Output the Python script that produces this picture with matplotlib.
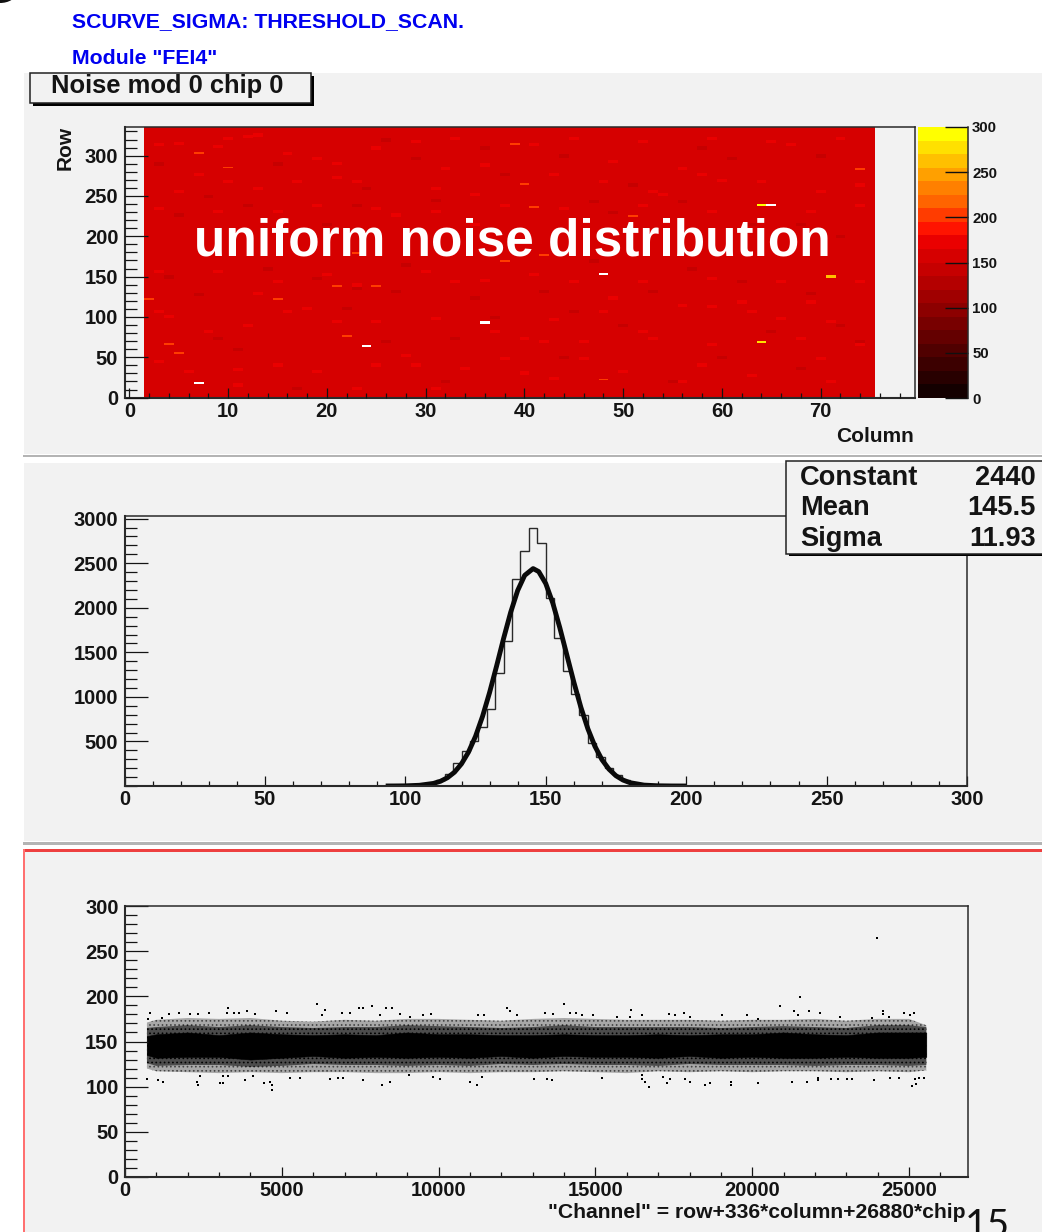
import numpy as np
import matplotlib
matplotlib.use('Agg')
import matplotlib.pyplot as plt
from matplotlib.colors import ListedColormap, BoundaryNorm
from matplotlib.patches import Rectangle, Ellipse
from matplotlib.ticker import MultipleLocator

plt.rcParams['font.family'] = ['Liberation Sans', 'DejaVu Sans']
plt.rcParams['font.weight'] = 'bold'
plt.rcParams['hatch.linewidth'] = 0.7

W, H = 1042, 1232
PANEL = '#f2f2f2'
INK = '#141414'

# top map: typical level, and the cells that stand out in the picture
map_level = 152
map_first_col, map_last_col = 2, 75
bright_cols = [9, 10, 13, 9, 21, 21, 19, 25, 8, 4, 11, 27, 29, 36, 35, 23, 28, 18, 7, 12, 32, 16, 38,
               43, 42, 40, 71, 49, 56, 54, 60, 67, 59, 52, 63, 74, 48, 66, 58, 70, 46,
               3, 5, 10, 13, 19, 25, 29, 33, 36, 5, 13, 17, 23, 31, 35, 3, 15, 25, 31, 3, 9, 15, 20, 30, 33,
               3, 12, 16, 21, 31, 37, 3, 6, 15, 19, 25, 34, 38, 11, 23, 31,
               41, 45, 52, 59, 65, 72, 43, 48, 53, 58, 64, 70, 44, 52, 59, 69, 74, 41, 45, 52, 59, 66, 74,
               49, 56, 62, 69, 40, 46, 53, 59, 68, 74, 43, 50, 56, 63, 71]
bright_rows = [312, 268, 130, 231, 291, 273, 239, 95, 82, 101, 35, 227, 41, 146, 215, 140, 53, 111, 277, 324, 285, 303, 239,
               97, 70, 31, 95, 293, 285, 252, 270, 314, 113, 82, 107, 264, 107, 99, 41, 49, 49,
               314, 316, 322, 326, 297, 310, 318, 322, 289, 256, 260, 268, 268, 260, 252, 235, 231, 235, 231, 157, 157, 144, 153, 157, 144,
               107, 90, 107, 95, 99, 82, 45, 33, 41, 33, 41, 37, 49, 16, 12, 12,
               314, 322, 318, 322, 318, 322, 277, 268, 256, 277, 268, 256, 235, 239, 231, 231, 239, 153, 144, 144, 148, 144, 144,
               124, 115, 119, 119, 74, 70, 74, 66, 74, 66, 24, 33, 20, 28, 20]
orange_cols = [4, 5, 10, 7, 15, 21, 22, 25, 2, 23, 38, 40, 41, 51, 42, 74, 48, 39]
orange_rows = [66, 55, 285, 303, 122, 138, 76, 138, 122, 179, 169, 264, 236, 225, 176, 283, 22, 314]
dark_cols = [29, 12, 23, 19, 23, 27, 5, 35, 38, 20, 9, 33, 17, 22, 7, 24,
             47, 56, 61, 68, 51, 53, 62, 65, 42, 45, 74, 68,
             3, 15, 26, 36, 8, 31, 4, 14, 28, 37, 11, 26, 32, 44, 58, 70, 49, 63, 72, 47, 57, 69, 50, 60, 44, 72, 55]
dark_rows = [297, 239, 239, 148, 136, 132, 227, 124, 277, 215, 74, 74, 12, 111, 128, 260,
             244, 244, 297, 215, 264, 132, 144, 82, 132, 107, 70, 37,
             290, 290, 320, 310, 250, 245, 150, 160, 165, 100, 60, 70, 20, 300, 310, 300, 230, 215, 200, 170, 160, 130, 90, 50, 50, 90, 20]
hot_cols = [7, 24, 36, 48, 64, 65, 71, 64]
hot_rows = [18, 64, 93, 153, 239, 239, 150, 69]
hot_vals = [320, 320, 320, 320, 290, 320, 260, 280]

palette_edges = list(range(0, 315, 15))
palette = ['#140000', '#280000', '#3c0000', '#500000', '#640000', '#780000', '#8c0000', '#a00000',
           '#b40000', '#c60000', '#d60000', '#ea0000', '#ff1400', '#ff3c00', '#ff6400', '#ff8000',
           '#ffa000', '#ffc000', '#ffe000', '#ffff00']

# middle histogram, 3 wide bins starting at 105
hist_start = 105
hist_values = [12, 30, 70, 137, 256, 391, 510, 661, 868, 1272, 1627, 2328, 2635, 2890, 2732,
               2110, 1665, 1290, 1036, 800, 477, 324, 200, 118, 62, 28, 12, 5]
fit_x = [93, 96, 100, 105, 110, 112.5, 115, 117.5, 120, 122.5, 125, 127.5, 130, 132.5, 135, 137.5, 140, 142.5,
         145.5, 147.5, 150, 152.5, 155, 157.5, 160, 162.5, 165, 167.5, 170, 172.5, 175, 177.5, 180, 185, 190, 195, 200]
fit_y = [0.2, 0.5, 1.7, 8, 29, 53, 93, 155, 249, 381, 558, 782, 1049, 1347, 1657, 1948, 2194, 2364,
         2440, 2406, 2272, 2054, 1777, 1471, 1166, 884, 642, 446, 296, 189, 115, 67, 37, 10, 2.3, 0.3, 0]
fit_stats = [('Constant', '2440'), ('Mean', '145.5'), ('Sigma', '11.93')]

# bottom scatter: band outline read every 1000 channels, plus the stray points
band_x = [700, 1000, 2000, 3000, 4000, 5000, 6000, 7000, 8000, 9000, 10000, 11000, 12000, 13000,
          14000, 15000, 16000, 17000, 18000, 19000, 20000, 21000, 22000, 23000, 24000, 25000, 25550]
outer_top = [171, 174, 176, 175, 176, 173, 172, 174, 173, 175, 175, 174, 173, 175,
             176, 175, 174, 174, 174, 173, 174, 174, 175, 173, 175, 175, 168]
outer_low = [120, 117, 116, 115, 116, 115, 116, 116, 115, 115, 116, 115, 116, 116,
             117, 116, 115, 117, 116, 117, 116, 117, 117, 116, 117, 116, 118]
mid_top = [165, 166, 168, 166, 168, 166, 165, 166, 166, 168, 167, 166, 165, 166,
           168, 166, 166, 166, 166, 165, 166, 167, 166, 165, 168, 168, 166]
mid_low = [126, 123, 124, 124, 122, 123, 125, 124, 124, 123, 124, 123, 125, 124,
           125, 124, 124, 123, 125, 124, 124, 124, 123, 124, 124, 123, 124]
core_top = [156, 158, 160, 157, 160, 158, 157, 158, 157, 160, 158, 158, 157, 157,
            158, 157, 157, 158, 157, 158, 158, 160, 158, 157, 160, 160, 160]
core_low = [135, 132, 133, 133, 130, 132, 134, 132, 133, 132, 133, 132, 134, 132,
            134, 133, 133, 132, 134, 132, 133, 132, 132, 133, 132, 132, 133]
stray_x = [798, 1733, 1414, 2339, 2690, 3275, 3243, 3477, 3625, 3902, 4146, 4816, 5156, 6134, 6368, 6294, 6910,
           7176, 7452, 7580, 7877, 8313, 8505, 8133, 8770, 2073, 1170, 745,
           1064, 1202, 2286, 2318, 3030, 3136, 3827, 4444, 4625, 4678, 4688, 4093, 2392, 3136, 3296, 5262, 5581,
           6538, 6804, 6963, 7580, 8451, 8207, 692,
           12174, 12280, 14013, 16138, 13396, 14193, 14385, 17350, 17552, 9516, 9750, 9091, 11270, 11451, 12514,
           13662, 14565, 14916, 16107, 16479, 15682,
           11004, 11217, 10048, 9835, 13056, 13449, 13609, 15225, 16479, 16479, 16585, 16723, 17297, 17148, 9070, 11376,
           21508, 20871, 21317, 21806, 22168, 24166, 24166, 24846, 25144, 17830, 19042, 19818, 21445, 22805, 18022,
           20180, 23815, 24347, 25016,
           18500, 18660, 19329, 19329, 20169, 21264, 21742, 22093, 22093, 22518, 22720, 25091, 25229, 25197, 25303,
           25463, 18022, 17862, 17384, 23868, 24400, 24666, 23018, 23177, 23980]
stray_y = [182, 182, 180, 180, 182, 187, 182, 182, 182, 184, 180, 184, 182, 192, 185, 179, 182,
           182, 187, 187, 189, 187, 187, 179, 180, 180, 176, 175,
           107, 105, 105, 102, 104, 104, 107, 104, 105, 102, 96, 112, 112, 112, 112, 110, 110,
           109, 110, 110, 107, 105, 102, 109,
           187, 184, 192, 185, 182, 182, 182, 180, 179, 179, 180, 177, 179, 179, 179,
           180, 179, 179, 177, 179, 177,
           105, 102, 108, 111, 109, 109, 107, 110, 113, 108, 105, 100, 104, 111, 113, 111,
           199, 189, 184, 184, 182, 184, 180, 182, 182, 182, 179, 179, 179, 177, 177,
           175, 176, 177, 179,
           102, 104, 105, 102, 104, 105, 105, 110, 107, 109, 109, 101, 103, 108, 110,
           110, 105, 109, 109, 107, 110, 110, 109, 109, 265]


def make_axes(left, top, right, bottom):
    return fig.add_axes([left / W, 1 - bottom / H, (right - left) / W, (bottom - top) / H])


def style_axes(ax, xmajor, xminor, ymajor, yminor):
    ax.set_facecolor(PANEL)
    ax.xaxis.set_major_locator(MultipleLocator(xmajor))
    ax.xaxis.set_minor_locator(MultipleLocator(xminor))
    ax.yaxis.set_major_locator(MultipleLocator(ymajor))
    ax.yaxis.set_minor_locator(MultipleLocator(yminor))
    ax.tick_params(axis='x', which='major', direction='in', length=7, width=0.9, color=INK,
                   labelsize=14.5, labelcolor=INK, pad=3)
    ax.tick_params(axis='x', which='minor', direction='in', length=3.6, width=0.9, color=INK)
    ax.tick_params(axis='y', which='major', direction='in', length=16.5, width=0.9, color=INK,
                   labelsize=14.5, labelcolor=INK, pad=4.5)
    ax.tick_params(axis='y', which='minor', direction='in', length=8.6, width=0.9, color=INK)
    for side in ax.spines:
        ax.spines[side].set_color('#2a2a2a')
        ax.spines[side].set_linewidth(1.1)
    ax.spines['left'].set_linewidth(1.5)
    ax.spines['bottom'].set_linewidth(1.5)


fig = plt.figure(figsize=(W / 100, H / 100), dpi=100, facecolor='white')

# slide background, panels and separators
bg = fig.add_axes([0, 0, 1, 1], zorder=0)
bg.set_xlim(0, W)
bg.set_ylim(H, 0)
bg.axis('off')
bg.add_patch(Rectangle((24, 73), W - 24, 381, fc=PANEL, ec='none'))
bg.add_patch(Rectangle((24, 463), W - 24, 378, fc=PANEL, ec='none'))
bg.add_patch(Rectangle((24, 851), W - 24, H - 851, fc=PANEL, ec='none'))
bg.add_patch(Rectangle((23, 454.5), W - 23, 2.5, fc='#b4b4b4', ec='none'))
bg.add_patch(Rectangle((23, 842), W - 23, 2.5, fc='#b4b4b4', ec='none'))
bg.add_patch(Rectangle((23, 849), W - 23, 2.5, fc='#ee4040', ec='none'))
bg.add_patch(Rectangle((23, 849), 1.5, H - 849, fc='#ff7070', ec='none'))
bg.add_patch(Ellipse((0, -7), 32, 20, fc='#111111', ec='none'))

# top panel: noise map
cells = np.full((336, 80), np.nan)
cells[:, map_first_col:map_last_col + 1] = map_level
for c, r in zip(dark_cols, dark_rows):
    cells[max(r - 2, 0):r + 2, c] = 140
for c, r in zip(bright_cols, bright_rows):
    cells[max(r - 2, 0):r + 2, c] = 170
for c, r in zip(orange_cols, orange_rows):
    cells[r:r + 2, c] = 195
for c, r, v in zip(hot_cols, hot_rows, hot_vals):
    cells[r - 1:r + 2, c] = v

cmap = ListedColormap(palette)
cmap.set_over('white')
cmap.set_bad(PANEL)
norm = BoundaryNorm(palette_edges, cmap.N)

ax1 = make_axes(124.5, 127, 914.5, 398)
style_axes(ax1, 10, 2, 50, 10)
ax1.pcolormesh(np.arange(-0.5, 80), np.arange(-0.5, 336), np.ma.masked_invalid(cells),
               cmap=cmap, norm=norm, shading='flat')
ax1.set_xlim(-0.5, 79.5)
ax1.set_ylim(-0.5, 335.5)
ax1.set_axisbelow(False)

cax = make_axes(918, 127, 968, 398)
cax.pcolormesh([0, 1], palette_edges, np.array(palette_edges[:-1])[:, None] + 1, cmap=cmap, norm=norm)
cax.set_xlim(0, 1)
cax.set_ylim(0, 300)
cax.set_xticks([])
cax.yaxis.tick_right()
cax.yaxis.set_major_locator(MultipleLocator(50))
cax.tick_params(axis='y', direction='in', length=16.5, width=1.0, color='#101010',
                labelsize=10.8, labelcolor=INK, pad=3)
for side in ['left', 'top', 'bottom']:
    cax.spines[side].set_visible(False)
cax.spines['right'].set_color('#2a2a2a')
cax.spines['right'].set_linewidth(1.1)

# middle panel: histogram with the fit
ax2 = make_axes(124.5, 516, 967, 786)
style_axes(ax2, 50, 10, 500, 100)
hist_edges = np.arange(0, 303, 3)
hist_counts = np.zeros(100)
first_bin = hist_start // 3
hist_counts[first_bin:first_bin + len(hist_values)] = hist_values
ax2.stairs(hist_counts, hist_edges, color='#2a2a2a', linewidth=1.0)
ax2.plot(fit_x, fit_y, color='#0a0a0a', linewidth=3.5, solid_capstyle='butt')
ax2.set_xlim(0, 300)
ax2.set_ylim(0, 3030)
ax2.set_yticks(np.arange(500, 3500, 500))

# bottom panel: noise against channel
ax3 = make_axes(125, 906, 968, 1177)
style_axes(ax3, 5000, 1000, 50, 10)
ax3.fill_between(band_x, outer_low, outer_top, facecolor='#a8a8a8', edgecolor='#444444', hatch='....', linewidth=0)
ax3.fill_between(band_x, mid_low, mid_top, facecolor='#4c4c4c', edgecolor='black', hatch='....', linewidth=0)
ax3.fill_between(band_x, core_low, core_top, facecolor='black', edgecolor='black', linewidth=0.4)
ax3.scatter(stray_x, stray_y, s=2.0, marker='s', color='black', linewidths=0)
ax3.set_xlim(0, 26880)
ax3.set_ylim(0, 300)

# boxes and slide text on top of everything
top = fig.add_axes([0, 0, 1, 1], zorder=5)
top.set_xlim(0, W)
top.set_ylim(H, 0)
top.axis('off')
top.patch.set_alpha(0)


def put(x, y, s, size, **kw):
    kw.setdefault('va', 'center')
    kw.setdefault('color', INK)
    return top.text(x, y, s, fontsize=size, **kw)


put(72, 22, 'SCURVE_SIGMA: THRESHOLD_SCAN.', 15.3, color='#0000f0')
put(72, 58.5, 'Module "FEI4"', 15.3, color='#0000f0')

top.add_patch(Rectangle((33, 76), 281, 30, fc='black', ec='none'))
top.add_patch(Rectangle((29.5, 72.5), 281, 30, fc=PANEL, ec='#222222', lw=1.1))
put(51, 85.5, 'Noise mod 0 chip 0', 18.4)

top.add_patch(Rectangle((789, 463), 260, 93, fc='black', ec='none'))
top.add_patch(Rectangle((786, 460.5), 262, 93, fc=PANEL, ec='#222222', lw=1.1))
for (name, value), y in zip(fit_stats, [478, 508, 539]):
    put(800, y, name, 19.6)
    put(1036, y, value, 19.6, ha='right')

put(65, 148, 'Row', 15, rotation=90, ha='center')
put(914, 436, 'Column', 15, ha='right')
put(966, 1213, '"Channel" = row+336*column+26880*chip', 15.2, ha='right')

put(512, 242, 'uniform noise distribution', 37, ha='center', color='white',
    family=['Liberation Sans', 'DejaVu Sans'], weight='bold')
put(987, 1226, '15', 28, ha='center', color='#111111', family=['Lato', 'DejaVu Sans'], weight='normal')

fig.savefig('out.png', dpi=100, facecolor='white')
